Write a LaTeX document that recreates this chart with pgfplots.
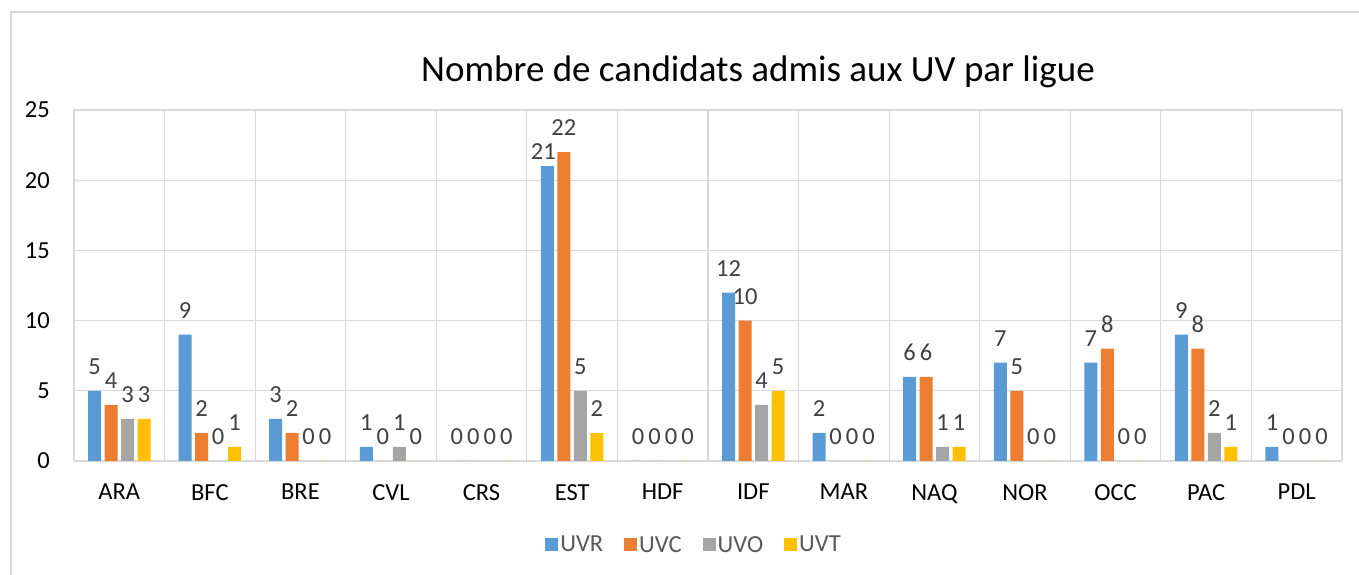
\documentclass[border=0pt]{standalone}
\usepackage{fontspec}
\setmainfont{Carlito}
\usepackage{pgfplots}
\pgfplotsset{compat=1.18}
\definecolor{cUVR}{HTML}{5B9BD5}
\definecolor{cUVC}{HTML}{ED7D31}
\definecolor{cUVO}{HTML}{A5A5A5}
\definecolor{cUVT}{HTML}{FFC000}
\definecolor{gridc}{HTML}{D9D9D9}
\definecolor{lblc}{HTML}{404040}
\definecolor{legc}{HTML}{595959}
\begin{document}
\begin{tikzpicture}
\useasboundingbox (0,0) rectangle (1359pt,575pt);
\draw[gridc, line width=2pt] (11pt,0) -- (11pt,563pt) -- (1359pt,563pt);
\node[font=\fontsize{37}{44}\selectfont, anchor=center] at (758pt,503pt) {Nombre de candidats admis aux UV par ligue};
\begin{axis}[
  at={(74pt,114pt)}, anchor=south west,
  scale only axis, width=1268pt, height=351pt,
  ybar=3.5pt, bar width=13pt,
  xmin=-0.5, xmax=13.5, ymin=0, ymax=25,
  xtick={0,...,13},
  xticklabels={ARA,BFC,BRE,CVL,CRS,EST,HDF,IDF,MAR,NAQ,NOR,OCC,PAC,PDL},
  minor xtick={-0.5,0.5,...,13.5},
  ytick={0,5,...,25},
  major tick length=0pt, minor tick length=0pt,
  ymajorgrids, xminorgrids,
  grid style={gridc, line width=1.2pt},
  minor grid style={gridc, line width=1.2pt},
  axis line style={draw=none},
  axis x line*=bottom, axis y line*=left,
  /pgf/number format/assume math mode=true,
  tick label style={font=\fontsize{24.5}{29}\selectfont, text=black},
  yticklabel style={inner sep=0pt, xshift=-24pt},
  xticklabel style={inner sep=0pt, yshift=-23pt},
  nodes near coords,
  every node near coord/.append style={font=\fontsize{24.5}{29}\selectfont, text=lblc, inner sep=0pt},
  legend columns=4,
  legend style={at={(0.489,-0.239)}, anchor=center, draw=none, font=\fontsize{24.5}{29}\selectfont, text=legc,
    /tikz/every even column/.append style={column sep=19pt}},
  legend image code/.code={\fill[#1] (0pt,-6.5pt) rectangle (13pt,6.5pt);},
]
\addplot[fill=cUVR, draw=none,
  visualization depends on={value \thisrow{dy} \as \lbldy},
  visualization depends on={value \thisrow{dx} \as \lbldx},
  every node near coord/.append style={yshift=\lbldy pt, xshift=\lbldx pt}]
  table[x=x, y=y] {
x y dy dx
0 5 16 0
1 9 16 0
2 3 16 0
3 1 16 0
4 0 16 0
5 21 6 -4
6 0 16 0
7 12 16 0
8 2 16 0
9 6 16 0
10 7 16 0
11 7 16 0
12 9 16 0
13 1 16 0
};
\addplot[fill=cUVC, draw=none, every node near coord/.append style={yshift=16pt}] coordinates {(0,4) (1,2) (2,2) (3,0) (4,0) (5,22) (6,0) (7,10) (8,0) (9,6) (10,5) (11,8) (12,8) (13,0)};
\addplot[fill=cUVO, draw=none, every node near coord/.append style={yshift=16pt}] coordinates {(0,3) (1,0) (2,0) (3,1) (4,0) (5,5) (6,0) (7,4) (8,0) (9,1) (10,0) (11,0) (12,2) (13,0)};
\addplot[fill=cUVT, draw=none, every node near coord/.append style={yshift=16pt}] coordinates {(0,3) (1,1) (2,0) (3,0) (4,0) (5,2) (6,0) (7,5) (8,0) (9,1) (10,0) (11,0) (12,1) (13,0)};
\legend{UVR,UVC,UVO,UVT}
\end{axis}
\end{tikzpicture}
\end{document}
